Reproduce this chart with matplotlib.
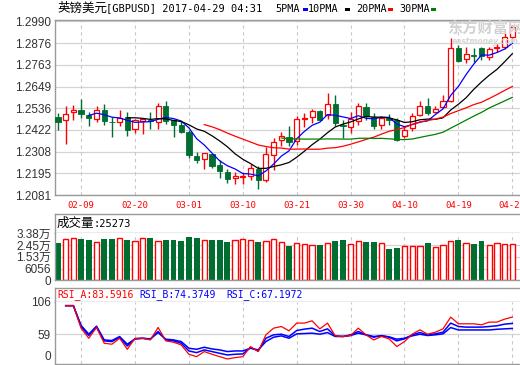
import matplotlib
matplotlib.use('Agg')
import matplotlib.pyplot as plt
from matplotlib.patches import Rectangle
import numpy as np
import pandas as pd

W, H = 520, 365
RED = '#ff0000'
GREEN = '#006e30'
BLUE = '#0000ff'
GRID = '#d4d4d4'
FRAME = '#9a9a9a'
MONO = 'DejaVu Sans Mono'
CJK = 'Noto Sans CJK SC'
SANS = ['Liberation Sans', 'Noto Sans CJK SC']

# trading days shown on the chart
dates = pd.bdate_range('2017-02-06', '2017-04-28').strftime('%m-%d').tolist()

opens = [1.2487, 1.2474, 1.2515, 1.2527, 1.2502, 1.2477, 1.2527, 1.2465, 1.2464, 1.2488,
         1.2427, 1.2467, 1.2474, 1.2464, 1.2545, 1.2474, 1.2446, 1.2410, 1.2284, 1.2272,
         1.2295, 1.2238, 1.2203, 1.2172, 1.2175, 1.2179, 1.2217, 1.2158, 1.2293, 1.2367,
         1.2386, 1.2363, 1.2479, 1.2488, 1.2522, 1.2501, 1.2558, 1.2446, 1.2438, 1.2470,
         1.2541, 1.2488, 1.2445, 1.2484, 1.2472, 1.2392, 1.2432, 1.2498, 1.2545, 1.2515,
         1.2541, 1.2572, 1.2849, 1.2791, 1.2814, 1.2849, 1.2805, 1.2849, 1.2857, 1.2909]
highs = [1.2509, 1.2548, 1.2550, 1.2586, 1.2514, 1.2545, 1.2555, 1.2488, 1.2527, 1.2514,
         1.2481, 1.2479, 1.2514, 1.2565, 1.2571, 1.2480, 1.2467, 1.2420, 1.2307, 1.2303,
         1.2298, 1.2265, 1.2217, 1.2200, 1.2194, 1.2243, 1.2231, 1.2334, 1.2381, 1.2410,
         1.2441, 1.2496, 1.2510, 1.2531, 1.2527, 1.2614, 1.2605, 1.2476, 1.2514, 1.2562,
         1.2562, 1.2510, 1.2496, 1.2507, 1.2484, 1.2440, 1.2510, 1.2571, 1.2588, 1.2548,
         1.2605, 1.2901, 1.2866, 1.2854, 1.2849, 1.2857, 1.2857, 1.2871, 1.2927, 1.2970]
lows = [1.2421, 1.2350, 1.2476, 1.2484, 1.2441, 1.2465, 1.2446, 1.2384, 1.2441, 1.2388,
        1.2405, 1.2401, 1.2424, 1.2424, 1.2453, 1.2385, 1.2407, 1.2277, 1.2251, 1.2217,
        1.2224, 1.2169, 1.2144, 1.2139, 1.2139, 1.2158, 1.2110, 1.2148, 1.2213, 1.2338,
        1.2338, 1.2341, 1.2438, 1.2458, 1.2470, 1.2479, 1.2441, 1.2377, 1.2407, 1.2450,
        1.2476, 1.2424, 1.2424, 1.2450, 1.2363, 1.2380, 1.2414, 1.2493, 1.2501, 1.2510,
        1.2536, 1.2566, 1.2779, 1.2770, 1.2779, 1.2788, 1.2788, 1.2831, 1.2843, 1.2901]
closes = [1.2465, 1.2507, 1.2526, 1.2505, 1.2483, 1.2526, 1.2467, 1.2462, 1.2484, 1.2422,
          1.2472, 1.2477, 1.2470, 1.2548, 1.2467, 1.2445, 1.2412, 1.2291, 1.2265, 1.2300,
          1.2234, 1.2208, 1.2165, 1.2179, 1.2182, 1.2220, 1.2160, 1.2293, 1.2360, 1.2389,
          1.2358, 1.2479, 1.2484, 1.2519, 1.2472, 1.2558, 1.2458, 1.2443, 1.2476, 1.2545,
          1.2493, 1.2441, 1.2484, 1.2476, 1.2369, 1.2423, 1.2496, 1.2548, 1.2510, 1.2533,
          1.2572, 1.2849, 1.2785, 1.2819, 1.2809, 1.2809, 1.2845, 1.2854, 1.2909, 1.2958]
volumes = [26400, 29000, 29800, 29300, 28500, 26900, 29300, 29300, 29800, 28500,
           27700, 29800, 30100, 27700, 28500, 28500, 27700, 30900, 30100, 28500,
           28500, 28500, 26900, 28500, 29000, 28500, 27200, 27700, 29000, 26700,
           23800, 25900, 25300, 24500, 24500, 25900, 27700, 28500, 25300, 28000,
           26700, 26700, 25900, 21400, 21900, 23500, 23500, 23500, 25900, 22700,
           24300, 28000, 28500, 25900, 25300, 27700, 24500, 25900, 25300, 25273]
rsi_a = [np.nan, 100, 100, 67.6, 53.1, 68.6, 45.9, 44.5, 53.1, 37.2,
         53.1, 53.0, 50.7, 68.6, 49.3, 47.4, 43.5, 30.0, 26.6, 33.9,
         30.0, 26.6, 23.2, 25.2, 26.6, 41.1, 33.9, 58.0, 67.6, 70.0,
         63.8, 74.9, 74.9, 78.2, 66.6, 74.9, 56.5, 55.6, 57.0, 67.6,
         58.0, 50.7, 55.6, 52.2, 41.1, 48.3, 58.9, 65.2, 58.9, 61.8,
         66.6, 83.5, 73.9, 73.9, 73.9, 72.4, 76.3, 76.3, 80.6, 83.5916]
rsi_b = [np.nan, 100, 100, 69.5, 57.0, 69.5, 49.3, 48.3, 54.6, 42.0,
         52.2, 53.0, 51.7, 62.8, 50.7, 49.3, 45.9, 34.8, 32.4, 36.3,
         33.9, 31.4, 29.0, 30.0, 30.5, 39.6, 34.8, 53.1, 58.0, 58.9,
         55.6, 64.2, 66.2, 67.6, 62.8, 66.6, 56.5, 55.6, 58.0, 62.8,
         58.0, 54.6, 57.0, 54.6, 49.3, 52.2, 58.0, 61.3, 58.0, 59.4,
         61.8, 74.9, 70.0, 69.1, 69.1, 69.1, 70.0, 71.0, 73.4, 74.3749]
rsi_c = [np.nan, 100, 100, 71.5, 59.0, 70.5, 50.7, 49.8, 55.5, 44.5,
         52.2, 53.0, 52.2, 61.3, 51.7, 50.7, 48.3, 38.7, 37.2, 40.1,
         37.7, 36.3, 33.9, 34.8, 34.8, 38.7, 36.3, 48.3, 54.6, 56.5,
         53.1, 59.4, 59.9, 60.4, 58.9, 61.3, 55.6, 55.6, 57.0, 60.4,
         58.0, 55.6, 56.5, 55.1, 51.7, 53.1, 56.5, 58.9, 57.0, 58.0,
         59.4, 68.5, 65.0, 65.0, 65.0, 65.0, 65.0, 66.0, 66.6, 67.1972]

price_ticks = [1.2081, 1.2195, 1.2308, 1.2422, 1.2536, 1.2649, 1.2763, 1.2876, 1.2990]
vol_ticks = [33800, 24500, 15300, 6056, -3130]
vol_tick_labels = ['3.38万', '2.45万', '1.53万', '6056', '0']
rsi_ticks = [106, 59, 28]
rsi_tick_labels = ['106', '59', '0']
ma_periods = [5, 10, 20, 30]
ma_colors = [BLUE, 'black', RED, '#008000']

x = np.arange(len(dates))
o, h, l, c = map(np.array, (opens, highs, lows, closes))
up = c >= o
date_idx = x[3::7]
date_labels = [dates[i] for i in date_idx]
XLIM = (-0.39, 60.26)


def px_axes(fig, left, top, right, bottom):
    return fig.add_axes([left / W, 1 - bottom / H, (right - left) / W, (bottom - top) / H])


def frame(ax, sides=('left', 'bottom', 'top')):
    for name, sp in ax.spines.items():
        sp.set_visible(name in sides)
        sp.set_color(FRAME)
        sp.set_linewidth(1.0)


def vgrid(ax):
    for xi in date_idx:
        ax.axvline(xi, color='#c8c8c8', lw=0.8, ls=(0, (3, 3)), zorder=0)


fig = plt.figure(figsize=(W / 100, H / 100), dpi=100)

# ---- price panel
ax = px_axes(fig, 55, 19.5, 522, 195)
ax.set_xlim(*XLIM)
ax.set_ylim(1.2081, 1.3000)
frame(ax)
for t in price_ticks:
    ax.axhline(t, color=GRID, lw=0.9, zorder=0)
vgrid(ax)

green_x = x[~up]
ax.vlines(green_x, l[~up], h[~up], color=GREEN, lw=1.0, zorder=2)
ax.bar(green_x, (o - c)[~up] + 0.00004, bottom=c[~up], width=0.7,
       color=GREEN, edgecolor=GREEN, lw=0.6, zorder=3)
red_x = x[up]
ax.vlines(red_x, c[up], h[up], color=RED, lw=1.0, zorder=2)
ax.vlines(red_x, l[up], o[up], color=RED, lw=1.0, zorder=2)
ax.bar(red_x, (c - o)[up] + 0.00004, bottom=o[up], width=0.66,
       facecolor='white', edgecolor=RED, lw=0.9, zorder=3)

close_s = pd.Series(closes)
for n, col in zip(ma_periods, ma_colors):
    ax.plot(x, close_s.rolling(n).mean(), color=col, lw=0.9, zorder=4)

ax.set_yticks(price_ticks)
ax.set_yticklabels([f'{t:.4f}' for t in price_ticks], family=SANS, size=8.5, color='#333333')
ax.set_xticks(date_idx)
ax.set_xticklabels(date_labels, family=MONO, size=6.5, color=RED)
ax.tick_params(length=0, pad=3)
ax.tick_params(axis='x', pad=4)

# title line
fig.text(57 / W, 1 - 8.5 / H, '英镑美元', family=CJK, size=9, va='center')
fig.text(106 / W, 1 - 8.5 / H, '[GBPUSD] 2017-04-29 04:31', family=MONO, size=7.5, va='center')
for lab, lx, col, mx in zip(['5PMA', '10PMA', '20PMA', '30PMA'], [275, 308, 356, 399],
                            ma_colors, [303, 345, 388, 431]):
    fig.text(lx / W, 1 - 9.5 / H, lab, family=MONO, size=7.3, va='center')
    fig.add_artist(Rectangle((mx / W, 1 - 11 / H), 4.5 / W, 2.5 / H,
                             transform=fig.transFigure, color=col, lw=0))

# watermark (cut by the right edge, as in the source)
fig.text(447 / W, 1 - 28 / H, '东方财富网', family=CJK, size=11, weight='bold',
         color='#d2d2d2', va='center', zorder=0)
fig.text(452 / W, 1 - 42 / H, 'eastmoney.com', family='DejaVu Sans', size=5.5,
         style='italic', weight='bold', color='#d6d6d6', va='center', zorder=0)

# ---- volume panel
axh = px_axes(fig, 55, 214, 522, 233.3)
axh.set_xticks([])
axh.set_yticks([])
frame(axh, ('left', 'top', 'bottom'))
axh.text(2 / 467, 0.5, '成交量', family=CJK, size=9, va='center', transform=axh.transAxes)
axh.text(38 / 467, 0.5, f':{volumes[-1]}', family=MONO, size=7.5, va='center',
         transform=axh.transAxes)

axv = px_axes(fig, 55, 233.3, 522, 280.3)
axv.set_xlim(*XLIM)
axv.set_ylim(vol_ticks[-1], vol_ticks[0])
frame(axv, ('left', 'bottom'))
for t in vol_ticks[1:-1]:
    axv.axhline(t, color=GRID, lw=0.9, zorder=0)
vgrid(axv)
vol = np.array(volumes, dtype=float)
base = vol_ticks[-1]
axv.bar(x[~up], vol[~up] - base, bottom=base, width=0.76, color=GREEN, zorder=2)
axv.bar(x[up], vol[up] - base, bottom=base, width=0.7, facecolor='white',
        edgecolor=RED, lw=1.0, zorder=2)
axv.set_yticks(vol_ticks)
axv.set_yticklabels(vol_tick_labels, family=SANS, size=8.5, color='#333333')
axv.set_xticks([])
axv.tick_params(length=0, pad=3)

# ---- RSI panel
axr_h = px_axes(fig, 55, 288, 522, 301.5)
axr_h.set_xticks([])
axr_h.set_yticks([])
frame(axr_h, ('left', 'top', 'bottom'))
for txt, tx, col in zip([f'RSI_A:{rsi_a[-1]:.4f}', f'RSI_B:{rsi_b[-1]:.4f}', f'RSI_C:{rsi_c[-1]:.4f}'],
                        [57, 139.5, 226.5], [RED, BLUE, BLUE]):
    fig.text(tx / W, 1 - 295 / H, txt, family=MONO, size=7.0, color=col, va='center')

axr = px_axes(fig, 55, 301.5, 522, 364)
axr.set_xlim(*XLIM)
axr.set_ylim(16, 106)
frame(axr, ('left', 'bottom'))
axr.axhline(59, color=GRID, lw=0.9, zorder=0)
vgrid(axr)
axr.plot(x, rsi_c, color=BLUE, lw=1.1, zorder=3)
axr.plot(x, rsi_b, color=BLUE, lw=1.1, zorder=3)
axr.plot(x, rsi_a, color=RED, lw=0.9, zorder=4)
axr.set_yticks(rsi_ticks)
axr.set_yticklabels(rsi_tick_labels, family=SANS, size=8.5, color='#333333')
axr.set_xticks([])
axr.tick_params(length=0, pad=3)

fig.savefig('out.png', dpi=100, facecolor='white')
